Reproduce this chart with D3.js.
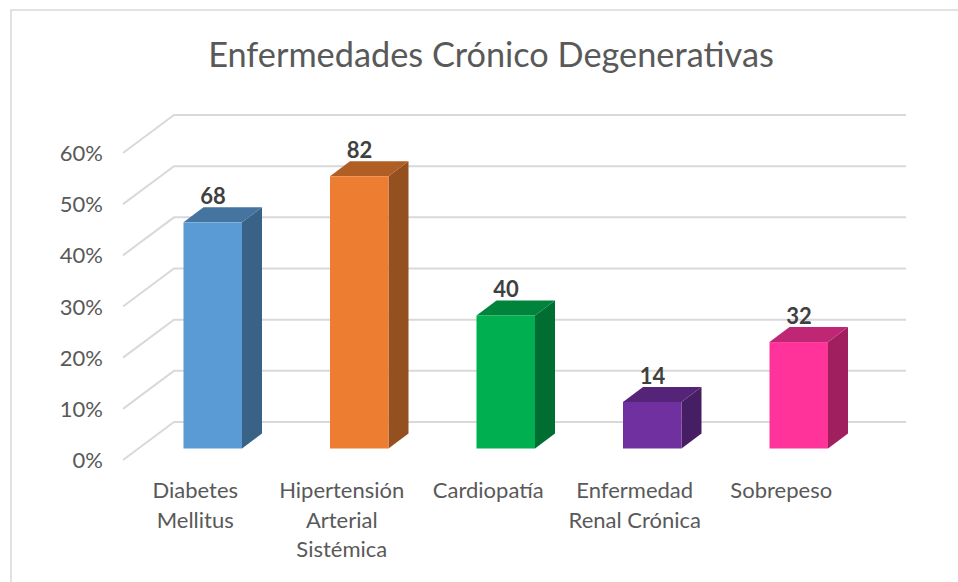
<!DOCTYPE html>
<html><head><meta charset="utf-8">
<script src="https://cdn.jsdelivr.net/npm/d3@7"></script>
<style>html,body{margin:0;padding:0;background:#fff}svg{display:block}text{font-family:Lato,"Open Sans",sans-serif}</style>
</head><body><svg id="c" width="958" height="582"></svg>
<script>
const titleText = "Enfermedades Crónico Degenerativas";
const categories = [["Diabetes","Mellitus"],["Hipertensión","Arterial","Sistémica"],["Cardiopatía"],["Enfermedad","Renal Crónica"],["Sobrepeso"]];
const percentValues = [44.2, 53.2, 26, 9.1, 20.8];
const dataLabels = [68, 82, 40, 14, 32];
const frontColors = ["#5b9bd5","#ed7d31","#00b050","#7030a0","#ff3399"];
const topColors = ["#44749f","#b15e24","#00843c","#542478","#bf2673"];
const sideColors = ["#386286","#94501f","#006e32","#461e64","#a0205f"];
const yTicks = [0,10,20,30,40,50,60];

const svg = d3.select("#c");
const names = categories.map(d=>d.join(" "));
const dx = 20, dy = 15;
const x = d3.scaleBand().domain(names).range([122,854.5]);
const y = d3.scaleLinear().domain([0,60]).range([448.5,141.5]);
const barW = 58.5, barShift = 17.5;

svg.append("rect").attr("x",11).attr("y",10).attr("width",980).attr("height",600).attr("fill","#fff").attr("stroke","#d9d9d9").attr("stroke-width",1.5);

svg.append("text").attr("x",491).attr("y",67).attr("text-anchor","middle").attr("font-size",34.3).attr("fill","#595959").text(titleText);

const grid = svg.append("g").attr("fill","none").attr("stroke","#d9d9d9").attr("stroke-width",2);
yTicks.forEach(t=>{
  const yb = y(t)-26.5, yf = y(t)+11.5;
  grid.append("path").attr("d",d3.line()([[123,yf],[174,yb],[906,yb]]));
  svg.append("text").attr("x",103).attr("y",yf+2.5).attr("text-anchor","end").attr("dominant-baseline","middle").attr("font-size",22).attr("fill","#595959").text(t+"%");
});

names.forEach((n,i)=>{
  const xl = x(n)+x.bandwidth()/2+barShift-barW/2, xr = xl+barW, yt = y(percentValues[i]), yb = y(0);
  const g = svg.append("g");
  g.append("path").attr("fill",sideColors[i]).attr("d",d3.line()([[xr,yt],[xr+dx,yt-dy],[xr+dx,yb-dy],[xr,yb]])+"Z");
  g.append("path").attr("fill",topColors[i]).attr("d",d3.line()([[xl,yt],[xl+dx,yt-dy],[xr+dx,yt-dy],[xr,yt]])+"Z");
  g.append("rect").attr("x",xl).attr("y",yt).attr("width",barW).attr("height",yb-yt).attr("fill",frontColors[i]);
  svg.append("text").attr("x",xl+29.5).attr("y",yt-18).attr("text-anchor","middle").attr("font-size",22).attr("font-weight",700).attr("fill","#404040").text(dataLabels[i]);
  categories[i].forEach((line,k)=>{
    svg.append("text").attr("x",x(n)+x.bandwidth()/2).attr("y",498+k*29.5).attr("text-anchor","middle").attr("font-size",22).attr("fill","#595959").text(line);
  });
});
</script></body></html>
